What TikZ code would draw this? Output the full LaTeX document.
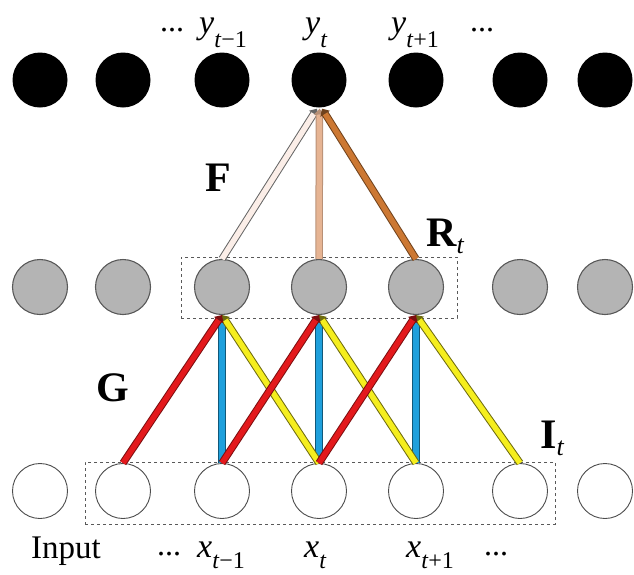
\documentclass[tikz,border=0pt]{standalone}
\usepackage{fontspec}
\setmainfont{Liberation Serif}
\usetikzlibrary{arrows.meta,calc}
\definecolor{gfill}{HTML}{B4B4B4}
\definecolor{cred}{HTML}{E3191C}
\definecolor{cblue}{HTML}{1FA0DC}
\definecolor{cyel}{HTML}{F5EE1E}
\definecolor{cpale}{HTML}{FBEEE8}
\definecolor{ctan}{HTML}{E6B493}
\definecolor{corange}{HTML}{CC7833}
\newcommand{\fatarrow}[4]{%
  \draw[line width=7.5pt, draw=#2, -{Triangle[length=6pt,width=11pt]}] (#3) -- (#4);
  \draw[line width=5.5pt, draw=#1, shorten >=6pt] (#3) -- (#4);
}
\newcommand{\varlab}[3]{{\fontsize{34}{38}\selectfont\textit{#1}\raisebox{-#3}{\fontsize{24}{26}\selectfont #2}}}
\begin{document}
\begin{tikzpicture}[x=1pt,y=-1pt,
  blackc/.style={circle,minimum size=55pt,inner sep=0pt,fill=black},
  grayc/.style={circle,minimum size=55pt,inner sep=0pt,fill=gfill,draw=black!65,line width=1.1pt},
  whitec/.style={circle,minimum size=55pt,inner sep=0pt,fill=white,draw=black!70,line width=0.9pt},
  dbox/.style={draw=black!65,dashed,line width=1pt},
  boldlab/.style={anchor=base west,inner sep=0pt,font=\fontsize{42}{46}\selectfont\bfseries},
  txt/.style={anchor=base west,inner sep=0pt}]
\useasboundingbox (0,0) rectangle (634,574);
% boxes
\node[dbox,minimum width=276pt,minimum height=61pt,inner sep=0pt] (rbox) at (319,287.5) {};
\node[dbox,minimum width=470pt,minimum height=62pt,inner sep=0pt] (ibox) at (320,493) {};
% nodes
\foreach \i/\x in {1/40,2/123,3/222,4/319,5/416,6/520,7/605}{
  \node[blackc] (b\i) at (\x,80) {};
  \node[grayc] (g\i) at (\x,287) {};
  \node[whitec] (w\i) at (\x,491) {};
}
% G connections
\fatarrow{cblue}{cblue!55!black}{w3.north}{g3.south}
\fatarrow{cblue}{cblue!55!black}{w4.north}{g4.south}
\fatarrow{cblue}{cblue!55!black}{w5.north}{g5.south}
\fatarrow{cyel}{cyel!45!black}{w4.north}{g3.south}
\fatarrow{cyel}{cyel!45!black}{w5.north}{g4.south}
\fatarrow{cyel}{cyel!45!black}{w6.north}{g5.south}
\fatarrow{cred}{cred!55!black}{w2.north}{g3.south}
\fatarrow{cred}{cred!55!black}{w3.north}{g4.south}
\fatarrow{cred}{cred!55!black}{w4.north}{g5.south}
% F connections
\coordinate (tl) at ($(b4.south)+(-2,1)$);
\coordinate (tm) at ($(b4.south)+(0.5,1)$);
\coordinate (tr) at ($(b4.south)+(3,1)$);
\fatarrow{cpale}{black!60}{g3.north}{tl}
\fatarrow{ctan}{ctan!80!black}{g4.north}{tm}
\fatarrow{corange}{corange!55!black}{g5.north}{tr}
% labels
\node[boldlab] (lF) at (205,191) {F};
\node[boldlab] (lR) at (426,246) {R\raisebox{-7pt}{\fontsize{26}{28}\selectfont\mdseries\textit{t}}};
\node[boldlab] (lG) at (96,401) {G};
\node[boldlab] (lI) at (540,448) {I\raisebox{-7pt}{\fontsize{26}{28}\selectfont\mdseries\textit{t}}};
% y labels
\node[txt,font=\fontsize{32}{36}\selectfont] (yd1) at (160,31) {...};
\node[txt] (ym) at (199,33) {\varlab{y}{\textit{t}−1}{14pt}};
\node[txt] (y0) at (305,33) {\varlab{y}{\textit{t}}{14pt}};
\node[txt] (yp) at (391,33) {\varlab{y}{\textit{t}+1}{14pt}};
\node[txt,font=\fontsize{32}{36}\selectfont] (yd2) at (470,31) {...};
% x labels
\node[txt,font=\fontsize{33}{36}\selectfont] (inp) at (31,558) {Input};
\node[txt,font=\fontsize{32}{36}\selectfont] (xd1) at (157,555) {...};
\node[txt] (xm) at (197,557) {\varlab{x}{\textit{t}−1}{11pt}};
\node[txt] (x0) at (304,557) {\varlab{x}{\textit{t}}{11pt}};
\node[txt] (xp) at (406,557) {\varlab{x}{\textit{t}+1}{11pt}};
\node[txt,font=\fontsize{32}{36}\selectfont] (xd2) at (484,555) {...};
\end{tikzpicture}
\end{document}
